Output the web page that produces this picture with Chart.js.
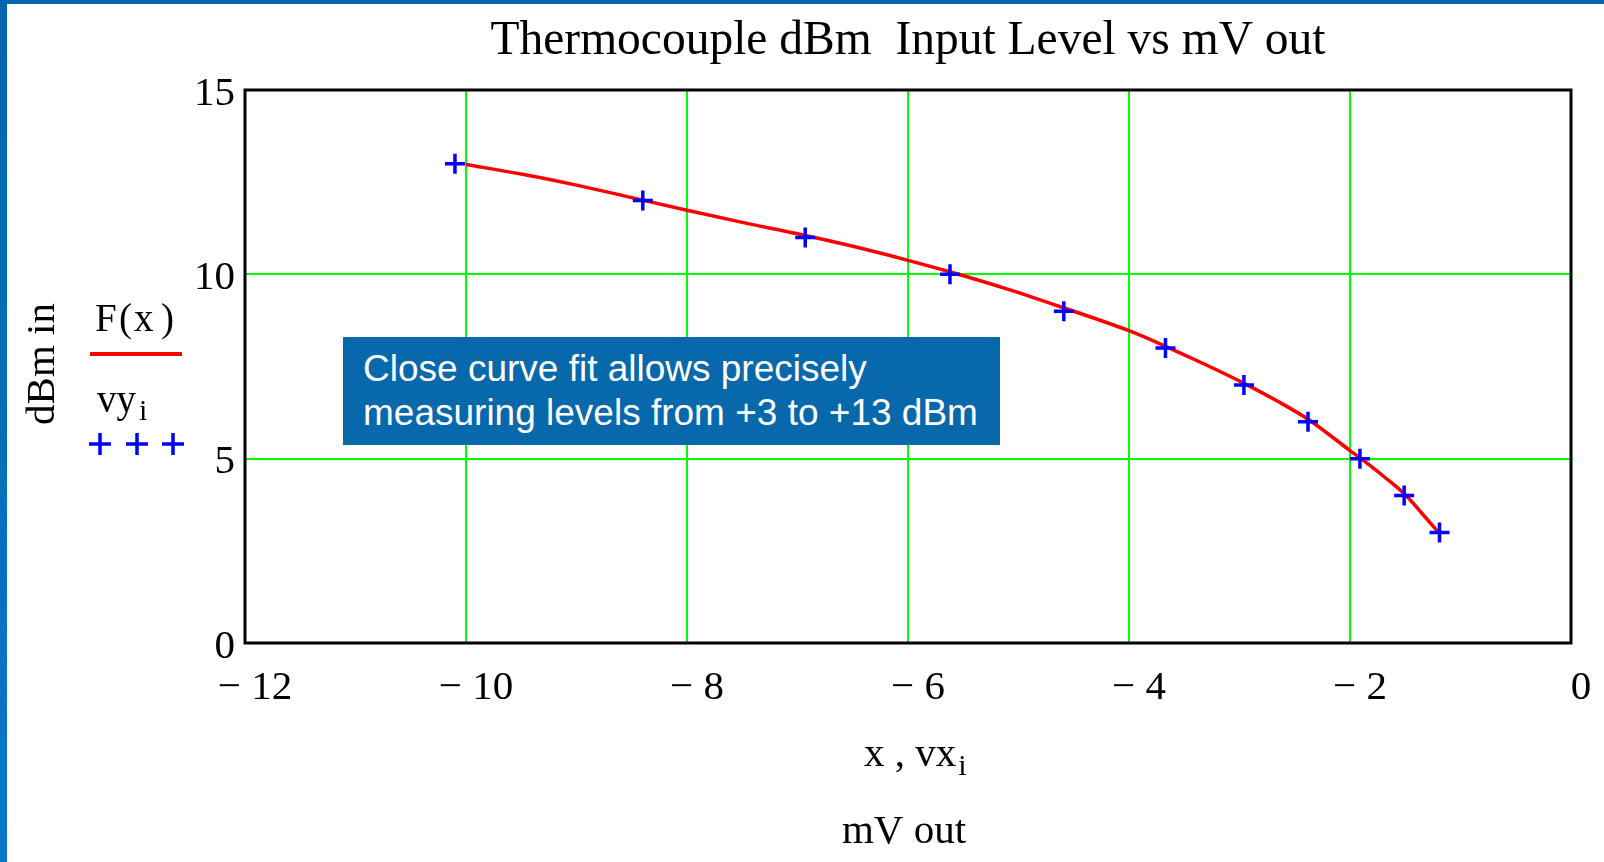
<!DOCTYPE html>
<html>
<head>
<meta charset="utf-8">
<script src="https://cdn.jsdelivr.net/npm/chart.js@4.4.1/dist/chart.umd.min.js"></script>
<style>
  body { margin: 0; background: #fff; }
  #wrap { position: relative; width: 1604px; height: 862px; overflow: hidden; }
  #edgeLeft { position: absolute; left: 0; top: 0; width: 7px; height: 862px; background: linear-gradient(#0066ad, #0a78c6); }
  #edgeTop { position: absolute; left: 0; top: 0; width: 1604px; height: 4px; background: #0066ad; }
  #note {
    position: absolute; left: 343px; top: 337px; width: 657px; height: 108px;
    box-sizing: border-box; padding: 10px 0 0 20px;
    background: #0868ac; color: #fff;
    font-family: "Liberation Sans", Arial, sans-serif; font-size: 37px; line-height: 44px;
    white-space: nowrap;
  }
</style>
</head>
<body>
<div id="wrap">
  <canvas id="chart" width="1604" height="862"></canvas>
  <div id="edgeLeft"></div>
  <div id="edgeTop"></div>
  <div id="note">Close curve fit allows precisely<br>measuring levels from +3 to +13 dBm</div>
</div>
<script>
// fitted curve F(x)
const curveX = [-10, -9.5, -9, -8.5, -8, -7.5, -7, -6.5, -6, -5.6, -5.1, -4.6, -4, -3.65, -3.3, -2.95, -2.65, -2.37, -2, -1.9, -1.7, -1.5, -1.35, -1.2];
const curveY = [12.98, 12.72, 12.42, 12.08, 11.74, 11.41, 11.1, 10.76, 10.38, 10.05, 9.6, 9.1, 8.47, 8.02, 7.54, 7.03, 6.55, 6.05, 5.22, 5.0, 4.53, 4.02, 3.52, 3.0];

// measured points vx_i, vy_i
const vx = [-10.1, -8.4, -6.93, -5.62, -4.59, -3.67, -2.96, -2.38, -1.91, -1.51, -1.19];
const vy = [13, 12, 11, 10, 9, 8, 7, 6, 5, 4, 3];

const xTicks = [-12, -10, -8, -6, -4, -2, 0];
const yTicks = [0, 5, 10, 15];

const serif = '"Liberation Serif", "Times New Roman", serif';

const toPoints = (xs, ys) => xs.map((x, i) => ({ x: x, y: ys[i] }));

// inner grid lines only, the frame covers the edges
const gridColor = (ctx, ticks) => {
  const v = ctx.tick ? ctx.tick.value : null;
  return (v === ticks[0] || v === ticks[ticks.length - 1]) ? 'rgba(0,0,0,0)' : '#00ff00';
};

const framePlugin = {
  id: 'frame',
  beforeDatasetsDraw(chart) {
    const { ctx, chartArea: a } = chart;
    ctx.save();
    ctx.strokeStyle = '#000';
    ctx.lineWidth = 3;
    ctx.strokeRect(a.left, a.top, a.right - a.left, a.bottom - a.top);
    ctx.restore();
  }
};

const labelsPlugin = {
  id: 'labels',
  afterDraw(chart) {
    const ctx = chart.ctx;
    ctx.save();
    ctx.fillStyle = '#000';
    ctx.textBaseline = 'alphabetic';

    // y title, rotated
    ctx.save();
    ctx.translate(54, 364);
    ctx.rotate(-Math.PI / 2);
    ctx.textAlign = 'center';
    ctx.font = '41px ' + serif;
    ctx.fillText('dBm in', 0, 0);
    ctx.restore();

    // legend: F(x) with red line
    ctx.textAlign = 'left';
    ctx.font = '39px ' + serif;
    ctx.fillText('F', 95, 331);
    ctx.fillText('(', 119, 331);
    ctx.fillText('x', 134, 331);
    ctx.fillText(')', 161, 331);
    ctx.strokeStyle = '#ff0000';
    ctx.lineWidth = 4;
    ctx.beginPath();
    ctx.moveTo(90, 354);
    ctx.lineTo(182, 354);
    ctx.stroke();

    // legend: vy_i with blue crosses
    ctx.font = '39px ' + serif;
    ctx.fillText('vy', 97, 412);
    ctx.font = '30px ' + serif;
    ctx.fillText('i', 139, 420);
    ctx.strokeStyle = '#0000ff';
    ctx.lineWidth = 3.5;
    [100, 137, 173].forEach(cx => {
      ctx.beginPath();
      ctx.moveTo(cx - 11, 444);
      ctx.lineTo(cx + 11, 444);
      ctx.moveTo(cx, 433);
      ctx.lineTo(cx, 455);
      ctx.stroke();
    });

    // x titles
    ctx.font = '41px ' + serif;
    ctx.fillText('x , vx', 864, 766);
    const w = ctx.measureText('x , vx').width;
    ctx.font = '30px ' + serif;
    ctx.fillText('i', 864 + w + 2, 775);
    ctx.font = '41px ' + serif;
    ctx.textAlign = 'center';
    ctx.fillText('mV out', 904, 843);
    ctx.restore();
  }
};

new Chart(document.getElementById('chart'), {
  type: 'scatter',
  data: {
    datasets: [
      {
        label: 'vy',
        data: toPoints(vx, vy),
        pointStyle: 'cross',
        pointRadius: 10,
        pointBorderWidth: 3.5,
        borderColor: '#0000ff',
        backgroundColor: '#0000ff',
        showLine: false
      },
      {
        label: 'F(x)',
        data: toPoints(curveX, curveY),
        showLine: true,
        borderColor: '#ff0000',
        borderWidth: 3.5,
        pointRadius: 0,
        cubicInterpolationMode: 'monotone',
        fill: false
      }
    ]
  },
  options: {
    responsive: false,
    animation: false,
    layout: { padding: { left: 0, right: 33, top: 0, bottom: 0 } },
    plugins: {
      legend: { display: false },
      tooltip: { enabled: false },
      title: {
        display: true,
        fullSize: false,
        text: 'Thermocouple dBm  Input Level vs mV out',
        color: '#000',
        font: { family: serif, size: 47.5, weight: 'normal', lineHeight: 1.2 },
        padding: { top: 13, bottom: 20 }
      }
    },
    scales: {
      x: {
        type: 'linear',
        min: -12,
        max: 0,
        afterBuildTicks: s => { s.ticks = xTicks.map(v => ({ value: v })); },
        afterFit: s => { s.height = 219; },
        ticks: {
          color: '#000',
          font: { family: serif, size: 41 },
          padding: 21,
          labelOffset: 10,
          maxRotation: 0,
          callback: v => v < 0 ? '\u2212 ' + Math.abs(v) : String(v)
        },
        grid: { color: ctx => gridColor(ctx, xTicks), lineWidth: 2, drawTicks: false },
        border: { display: false }
      },
      y: {
        type: 'linear',
        min: 0,
        max: 15,
        afterBuildTicks: s => { s.ticks = yTicks.map(v => ({ value: v })); },
        afterFit: s => { s.width = 245; },
        ticks: {
          color: '#000',
          font: { family: serif, size: 41 },
          padding: 10,
          labelOffset: 4,
          callback: v => String(v)
        },
        grid: { color: ctx => gridColor(ctx, yTicks), lineWidth: 2, drawTicks: false },
        border: { display: false }
      }
    }
  },
  plugins: [framePlugin, labelsPlugin]
});
</script>
</body>
</html>
